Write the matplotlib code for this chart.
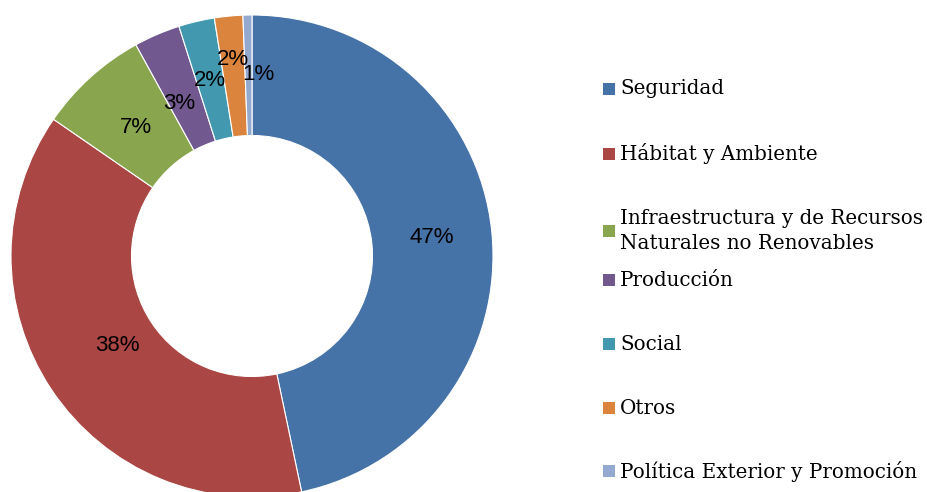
import matplotlib
matplotlib.use("Agg")
import matplotlib.pyplot as plt
from matplotlib.patches import Rectangle
import numpy as np

categories = ["Seguridad", "Hábitat y Ambiente",
              "Infraestructura y de Recursos\nNaturales no Renovables",
              "Producción", "Social", "Otros", "Política Exterior y Promoción"]
values = [46.7, 37.9, 7.4, 3.1, 2.4, 1.9, 0.6]
colors = ["#4572A7", "#AA4643", "#89A54E", "#71588F", "#4198AF", "#DB843D", "#93A9CF"]

W, H = 927, 492
fig = plt.figure(figsize=(W / 100, H / 100), dpi=100)
cx, cy, R = 252, 256, 241
ax = fig.add_axes([(cx - R) / W, (H - cy - R) / H, 2 * R / W, 2 * R / H])
wedges, _ = ax.pie(values, colors=colors, startangle=90, counterclock=False,
                   radius=1.0, wedgeprops=dict(width=0.5, edgecolor="white", linewidth=0.8))
ax.set_xlim(-1, 1)
ax.set_ylim(-1, 1)
ax.set_aspect("equal")
ax.axis("off")

# data labels
total = sum(values)
dist = [0.75, 0.67, 0.72, 0.69, 0.75, 0.82, 0.755]
offs = [0, 0, 0, -0.03, 0, 0, 0.04]
cum = 0
for v, d, o in zip(values, dist, offs):
    mid = 90 - (cum + v / 2) / total * 360
    cum += v
    x = d * np.cos(np.radians(mid)) + o
    y = d * np.sin(np.radians(mid))
    ax.text(x, y, f"{v / total * 100:.0f}%", ha="center", va="center",
            fontsize=16, family="Liberation Sans", color="#000000")

# legend
rows_y = [89, 154, 231, 280, 344, 408, 471]
for lab, col, ry in zip(categories, colors, rows_y):
    fig.add_artist(Rectangle(((603) / W, (H - ry - 6) / H), 12 / W, 12 / H,
                             transform=fig.transFigure, facecolor=col, edgecolor="none"))
    fig.text(620 / W, (H - ry) / H, lab, ha="left", va="center", fontsize=14.3,
             family="DejaVu Serif", color="#000000", linespacing=1.38)

fig.savefig("out.png", dpi=100, facecolor="white")
